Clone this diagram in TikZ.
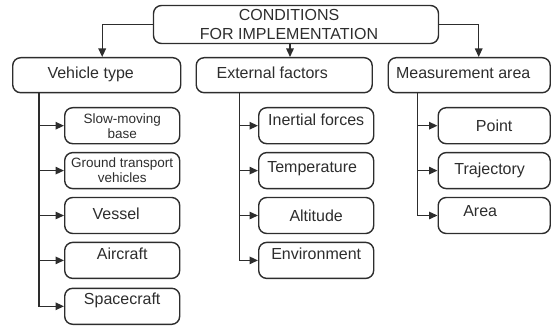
\documentclass[tikz,border=0pt]{standalone}
\usepackage{fontspec}
\setmainfont{Liberation Sans}
\usepackage{xcolor}
\usetikzlibrary{arrows.meta, positioning}
\definecolor{boxline}{RGB}{45,45,45}

\begin{document}
\begin{tikzpicture}[
  x=1pt, y=-1pt,
  node distance=7.5pt,
  box/.style={draw=boxline, rounded corners=8pt, line width=1.4pt,
              text=boxline, inner sep=0pt},
  head/.style={box, minimum width=285pt, minimum height=38pt,
               align=center, font=\fontsize{16}{19}\selectfont},
  group/.style={box, minimum height=35pt, text height=11pt, text depth=4pt,
                font=\fontsize{16}{19}\selectfont},
  leaf/.style={box, minimum width=115pt, minimum height=36pt,
               text height=11pt, text depth=0pt,
               font=\fontsize{16}{19}\selectfont},
  leaftwo/.style={box, minimum width=115pt, minimum height=36pt,
                  align=center, font=\fontsize{13.5}{15}\selectfont},
  raise/.style={text depth=#1},
  arr/.style={-{Triangle[length=8.5pt, width=7.5pt]}, line width=1.4pt, boxline}
]
\useasboundingbox (0,0) rectangle (551,326);

\node[head] (cond) at (296,24.5)
  {CONDITIONS\hspace*{14pt}\\FOR IMPLEMENTATION\hspace*{14pt}};

% second level
\node[group, minimum width=168pt, anchor=north west] (vt) at (12,57)
  {Vehicle type\hspace*{12pt}};
\node[group, minimum width=176pt, anchor=north west] (ef) at (195.5,57)
  {External factors\hspace*{24pt}};
\node[group, minimum width=162pt, anchor=north west] (ma) at (387.5,57)
  {Measurement area\hspace*{12pt}};

% vehicle type
\node[leaftwo, anchor=north west] (v1) at (64,107) {Slow-moving\\base};
\node[leaftwo, below=of v1] (v2) {Ground transport\\vehicles};
\node[leaf, raise=4pt, below=of v2] (v3) {Vessel\hspace*{12pt}};
\node[leaf, raise=12pt, below=of v3] (v4) {Aircraft};
\node[leaf, raise=15pt, below=8.5pt of v4] (v5) {Spacecraft};

% external factors
\node[leaf, raise=11pt, anchor=north west] (e1) at (258,107) {Inertial forces};
\node[leaf, raise=8pt, below=of e1] (e2) {Temperature\hspace*{8pt}};
\node[leaf, below=of e2] (e3) {Altitude};
\node[leaf, raise=12pt, below=of e3] (e4) {Environment};

% measurement area
\node[leaf, minimum width=112pt, anchor=north west] (m1) at (437.5,107) {Point};
\node[leaf, minimum width=112pt, raise=4pt, below=of m1] (m2) {Trajectory\hspace*{9pt}};
\node[leaf, minimum width=112pt, raise=9pt, below=of m2] (m3) {Area\hspace*{28pt}};

% from the top box
\draw[arr] (cond.west) -| ([xshift=5.5pt]vt.north);
\draw[arr] ([xshift=-6pt]cond.south) -- ([xshift=-6pt]cond.south |- ef.north);
\draw[arr] (cond.east) -| ([xshift=9.5pt]ma.north);

% trunks
\coordinate (tv) at ([xshift=27pt]vt.south west);
\coordinate (te) at ([xshift=44pt]ef.south west);
\coordinate (tm) at ([xshift=30pt]ma.south west);
\draw[arr] (tv) |- (v5.west);
\draw[arr] (te) |- (e4.west);
\draw[arr] (tm) |- (m3.west);
\foreach \c/\t in {v1/tv,v2/tv,v3/tv,v4/tv,e1/te,e2/te,e3/te,m1/tm,m2/tm}
  \draw[arr] (\c.west -| \t) -- (\c.west);
\end{tikzpicture}
\end{document}
